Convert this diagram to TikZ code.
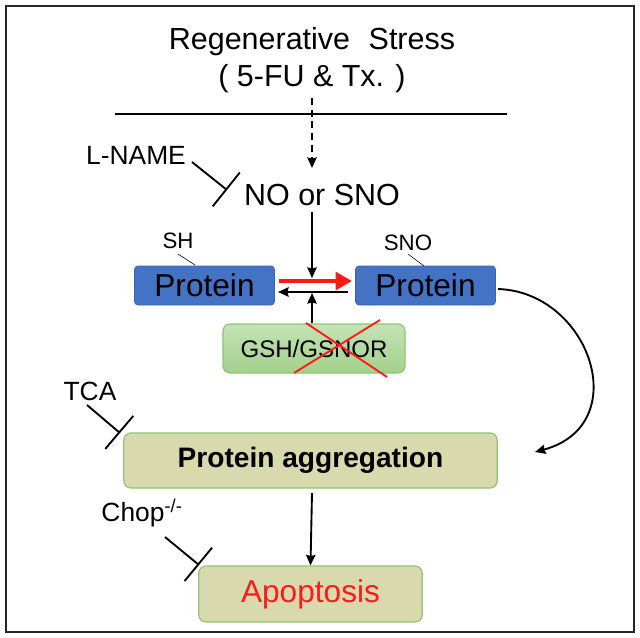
\documentclass[tikz,border=0pt]{standalone}
\usepackage{fontspec}
\setmainfont{Liberation Sans}
\usetikzlibrary{arrows.meta}

\definecolor{protblue}{HTML}{4472C4}
\definecolor{protedge}{HTML}{3A63AE}
\definecolor{tanfill}{HTML}{D9D9AE}
\definecolor{greenedge}{HTML}{8FC473}
\definecolor{greentop}{HTML}{C4E3B5}
\definecolor{greenbot}{HTML}{A2D18C}
\definecolor{xred}{HTML}{FF1A1A}

\begin{document}
\begin{tikzpicture}[x=0.03cm, y=-0.03cm,
        every node/.style={inner sep=0pt},
        arr/.style={line width=1.6pt, -{Stealth[length=9pt, width=8pt, inset=1pt]}},
        block/.style={line width=1.6pt, -{Bar[width=1.3cm]}},
        protbox/.style={rounded corners=3pt, fill=protblue, draw=protedge, line width=0.6pt,
            minimum width=4.2cm, minimum height=1.17cm,
            font=\fontsize{27}{30}\selectfont},
        tanbox/.style={rounded corners=6pt, fill=tanfill, draw=greenedge, line width=1pt}]
        \useasboundingbox (0,0) rectangle (640,637);

        % Coordinates
        \coordinate (A) at (115,114);
        \coordinate (B) at (507,114);
        \coordinate (C) at (312,98);
        \coordinate (D) at (312,168);
        \coordinate (E) at (312,278);
        \coordinate (F) at (312,293);
        \coordinate (G) at (192,162);
        \coordinate (H) at (227,190);
        \coordinate (I) at (87,405);
        \coordinate (J) at (120,433);
        \coordinate (K) at (165,537);
        \coordinate (L) at (199,565);
        \coordinate (M) at (306,323);
        \coordinate (N) at (387,377);
        \coordinate (O) at (380,320);
        \coordinate (P) at (294,373);
        \coordinate (Q) at (279,281);
        \coordinate (R) at (352,281);
        \coordinate (S) at (348,292);
        \coordinate (T) at (278,292);
        \coordinate (U) at (312,212);
        \coordinate (V) at (498,289);
        \coordinate (W) at (535,452);
        \coordinate (X) at (312,493);

        % Frame
        \draw[line width=1.6pt, black!85] (6,6) rectangle (634,632);

        % Nodes
        \node (stress) at (312,42) {\fontsize{26}{30}\selectfont Regenerative\,\, Stress};
        \node (drugs) at (312,79) {\fontsize{26}{30}\selectfont ( 5-FU \& Tx. )};
        \node (lname) at (136,155) {\fontsize{22.5}{26}\selectfont L-NAME};
        \node (nosno) at (322,195) {\fontsize{26}{30}\selectfont NO or SNO};
        \node[protbox] (protL) at (204.5,285.5) {Protein};
        \node[protbox] (protR) at (425.5,285.5) {Protein};
        \node (sh) at (178,241) {\fontsize{19}{22}\selectfont SH};
        \node (sno) at (408,243) {\fontsize{19}{22}\selectfont SNO};
        \node[rounded corners=6pt, draw=greenedge, line width=1pt, top color=greentop, bottom color=greenbot,
            minimum width=5.46cm, minimum height=1.47cm, font=\fontsize{20.5}{24}\selectfont] (gsh) at (314,348.5) {GSH/GSNOR};
        \node[tanbox, minimum width=11.2cm, minimum height=1.65cm, font=\fontsize{24}{28}\selectfont\bfseries] (aggr) at (310.5,460.5) {Protein aggregation};
        \node[tanbox, minimum width=6.7cm, minimum height=1.68cm, font=\fontsize{27}{30}\selectfont, text=xred] (apop) at (310.5,594) {Apoptosis};
        \node (tca) at (90,391) {\fontsize{22.5}{26}\selectfont TCA};
        \node (chop) at (142,513) {\fontsize{22.5}{26}\selectfont Chop\textsuperscript{-/-}};

        % Drawing
        \draw[line width=1.2pt] (A) -- (B);
        \draw[arr, dashed, dash pattern=on 6pt off 4pt] (C) -- (D);
        \draw[arr] (U) -- (E);
        \draw[block] (G) -- (H);
        \draw[line width=0.5pt] (178,254) -- (195,265);
        \draw[line width=0.5pt] (408,254) -- (424,266);
        \draw[line width=4pt, xred, -{Triangle[length=14pt, width=15pt]}] (Q) -- (R);
        \draw[arr] (S) -- (T);
        \draw[arr] (gsh.north -| F) -- (F);
        \draw[line width=1.6pt, xred] (M) -- (N);
        \draw[line width=1.6pt, xred] (O) -- (P);
        \draw[arr] (V) .. controls (590,292) and (635,425) .. (W);
        \draw[block] (I) -- (J);
        \draw[arr] (X) -- (apop.north);
        \draw[block] (K) -- (L);
\end{tikzpicture}
\end{document}
